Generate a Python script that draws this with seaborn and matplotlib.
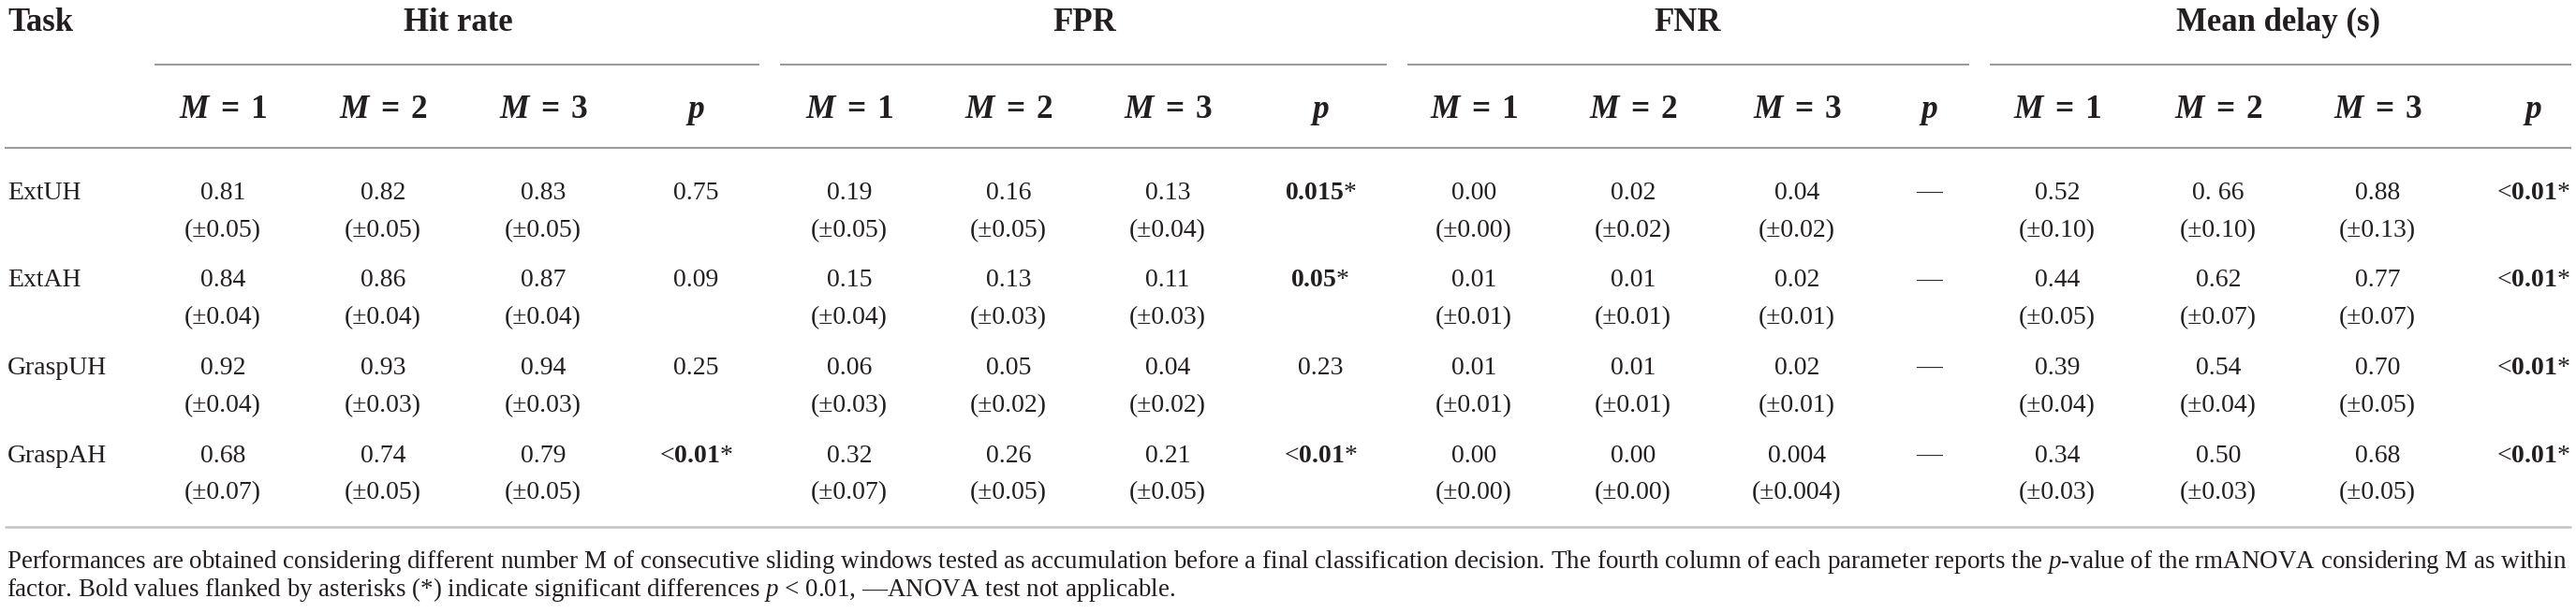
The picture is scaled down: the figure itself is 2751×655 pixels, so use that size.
import matplotlib
matplotlib.use("Agg")
import matplotlib.pyplot as plt
import seaborn as sns

# Table values
tasks = ["ExtUH", "ExtAH", "GraspUH", "GraspAH"]
groups = ["Hit rate", "FPR", "FNR", "Mean delay (s)"]
sub_cols = ["M=1", "M=2", "M=3", "p"]

hit_mean = [["0.81", "0.82", "0.83"], ["0.84", "0.86", "0.87"],
            ["0.92", "0.93", "0.94"], ["0.68", "0.74", "0.79"]]
hit_sd = [["0.05", "0.05", "0.05"], ["0.04", "0.04", "0.04"],
          ["0.04", "0.03", "0.03"], ["0.07", "0.05", "0.05"]]
hit_p = ["0.75", "0.09", "0.25", "<0.01*"]

fpr_mean = [["0.19", "0.16", "0.13"], ["0.15", "0.13", "0.11"],
            ["0.06", "0.05", "0.04"], ["0.32", "0.26", "0.21"]]
fpr_sd = [["0.05", "0.05", "0.04"], ["0.04", "0.03", "0.03"],
          ["0.03", "0.02", "0.02"], ["0.07", "0.05", "0.05"]]
fpr_p = ["0.015*", "0.05*", "0.23", "<0.01*"]

fnr_mean = [["0.00", "0.02", "0.04"], ["0.01", "0.01", "0.02"],
            ["0.01", "0.01", "0.02"], ["0.00", "0.00", "0.004"]]
fnr_sd = [["0.00", "0.02", "0.02"], ["0.01", "0.01", "0.01"],
          ["0.01", "0.01", "0.01"], ["0.00", "0.00", "0.004"]]
fnr_p = ["—", "—", "—", "—"]

delay_mean = [["0.52", "0. 66", "0.88"], ["0.44", "0.62", "0.77"],
              ["0.39", "0.54", "0.70"], ["0.34", "0.50", "0.68"]]
delay_sd = [["0.10", "0.10", "0.13"], ["0.05", "0.07", "0.07"],
            ["0.04", "0.04", "0.05"], ["0.03", "0.03", "0.05"]]
delay_p = ["<0.01*", "<0.01*", "<0.01*", "<0.01*"]

note_1 = ("Performances are obtained considering different number M of consecutive sliding windows "
          "tested as accumulation before a final classification decision. The fourth column of each "
          "parameter reports the $p$-value of the rmANOVA considering M as within")
note_2 = ("factor. Bold values flanked by asterisks (*) indicate significant differences "
          "$p$ < 0.01, —ANOVA test not applicable.")

blocks = [(hit_mean, hit_sd, hit_p), (fpr_mean, fpr_sd, fpr_p),
          (fnr_mean, fnr_sd, fnr_p), (delay_mean, delay_sd, delay_p)]

# Style
sns.set_theme(style="white")
plt.rcParams["font.family"] = ["Liberation Serif", "DejaVu Serif"]
plt.rcParams["mathtext.fontset"] = "custom"
plt.rcParams["mathtext.rm"] = "Liberation Serif"
plt.rcParams["mathtext.it"] = "Liberation Serif:italic"
plt.rcParams["mathtext.bf"] = "Liberation Serif:bold"
plt.rcParams["mathtext.bfit"] = "Liberation Serif:italic:bold"

ink = "#231f20"
rule = "#9b9b9b"

# layout (pixels)
col_x = [238, 409, 580, 743, 907, 1077, 1247, 1410,
         1574, 1744, 1919, 2060, 2197, 2369, 2539, 2705]
group_x = [489, 1158, 1802, 2433]
group_edges = [154, 822, 1492, 2114, 2757]
row_base = [213, 306.5, 400, 493.5]
sd_offset = 40


def p_label(s):
    if not s.endswith("*"):
        return s
    core = s[:-1]
    prefix = ""
    if core.startswith("<"):
        prefix, core = "<", core[1:]
    return prefix + r"$\mathbf{" + core + "}$*"


def sub_label(s):
    if s == "p":
        return r"$\mathbfit{p}$"
    return r"$\mathbfit{M}\;\mathbf{=}\;\mathbf{" + s.split("=")[1] + "}$"


fig = plt.figure(figsize=(27.51, 6.55), dpi=100)
ax = fig.add_axes([0, 0, 1, 1])
ax.set_xlim(0, 2751)
ax.set_ylim(655, 0)
ax.axis("off")

# header rows
ax.text(8, 33, "Task", fontsize=25, fontweight="bold", color=ink, va="baseline", ha="left")
for g, name in enumerate(groups):
    ax.text(group_x[g], 33, name, fontsize=25, fontweight="bold", color=ink,
            va="baseline", ha="center")
    ax.hlines(69, group_edges[g] + 11, group_edges[g + 1] - 11, color=rule, lw=1.5)
    for k, sc in enumerate(sub_cols):
        ax.text(col_x[4 * g + k], 126, sub_label(sc), fontsize=25.5, color=ink,
                va="baseline", ha="center")

ax.hlines(158, 5, 2746, color=rule, lw=1.5)

# body
for i, task in enumerate(tasks):
    y = row_base[i]
    ax.text(8, y, task, fontsize=20, color=ink, va="baseline", ha="left")
    for g, (means, sds, ps) in enumerate(blocks):
        for k in range(3):
            x = col_x[4 * g + k]
            ax.text(x, y, means[i][k], fontsize=20, color=ink, va="baseline", ha="center")
            ax.text(x, y + sd_offset, "(±" + sds[i][k] + ")", fontsize=20, color=ink,
                    va="baseline", ha="center")
        ax.text(col_x[4 * g + 3], y, p_label(ps[i]), fontsize=20, color=ink,
                va="baseline", ha="center")

ax.hlines(563, 5, 2746, color="#c4c4c4", lw=1.8)

# footnote, sized so that the first line fills the width
t1 = ax.text(7, 607, note_1, fontsize=18.5, color=ink, va="baseline", ha="left")
fig.canvas.draw()
w = t1.get_window_extent().width
fs = 18.5 * 2738 / w
t1.set_fontsize(fs)
ax.text(7, 637, note_2, fontsize=fs, color=ink, va="baseline", ha="left")

fig.savefig("out.png", dpi=100, facecolor="white")
